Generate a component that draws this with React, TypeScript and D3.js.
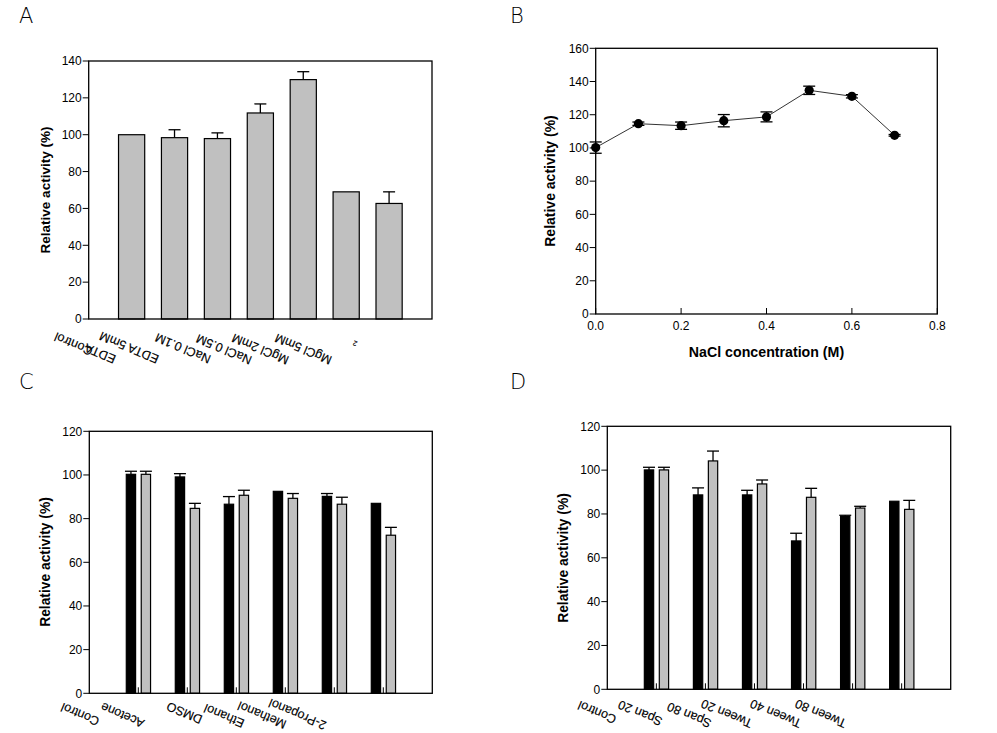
import React from "react";
import * as d3 from "d3";

// ---------- DATA ----------
// Panel A: metal ions / EDTA
const valuesA = [100, 98.4, 97.9, 111.8, 129.9, 69.0, 62.7];
const errorsA = [0, 4.3, 3.1, 4.9, 4.3, 0, 6.3];
const labelsA = ["Control", "EDTA", "EDTA 5mM", "NaCl 0.1M", "NaCl 0.5M", "MgCl 2mM", "MgCl 5mM", "2"];
const yTicksA = [0, 20, 40, 60, 80, 100, 120, 140];

// Panel B: NaCl concentration
const concB = [0, 0.1, 0.2, 0.3, 0.4, 0.5, 0.6, 0.7];
const activityB = [100.2, 114.6, 113.4, 116.4, 118.7, 134.7, 131.1, 107.6];
const errorsB = [3.4, 1.0, 2.2, 3.7, 3.0, 2.5, 1.0, 0.5];
const yTicksB = [0, 20, 40, 60, 80, 100, 120, 140, 160];
const xTicksB = [0, 0.2, 0.4, 0.6, 0.8];

// Panel C: organic solvents (two series)
const labelsC = ["Control", "Acetone", "DMSO", "Ethanol", "Methanol", "2-Propanol"];
const blackC = [100.3, 99.1, 86.6, 92.5, 90.2, 87.0];
const blackErrC = [1.4, 1.5, 3.5, 0, 1.3, 0];
const grayC = [100.3, 84.7, 90.7, 89.3, 86.6, 72.4];
const grayErrC = [1.4, 2.3, 2.3, 2.2, 3.2, 3.6];

// Panel D: detergents (two series)
const labelsD = ["Control", "Span 20", "Span 80", "Tween 20", "Tween 40", "Tween 80"];
const blackD = [100.1, 88.7, 88.7, 67.7, 78.8, 85.8];
const blackErrD = [1.2, 3.2, 2.1, 3.5, 0.6, 0];
const grayD = [100.1, 104.2, 93.7, 87.6, 82.7, 82.1];
const grayErrD = [1.2, 4.5, 1.8, 4.1, 0.8, 4.1];
const yTicksCD = [0, 20, 40, 60, 80, 100, 120];

// ---------- LAYOUT ----------
const FONT = "'Liberation Sans', Arial, sans-serif";
const W = 997, H = 733;

type Rect = { x0: number; x1: number; y0: number; y1: number };
const rectA: Rect = { x0: 88.7, x1: 432, y0: 61, y1: 319 };
const rectB: Rect = { x0: 595.7, x1: 937.3, y0: 48.3, y1: 314 };
const rectC: Rect = { x0: 89.3, x1: 432.3, y0: 431.3, y1: 693.3 };
const rectD: Rect = { x0: 607.3, x1: 950.7, y0: 426.3, y1: 689.3 };

// label anchor offsets (px) relative to plot left edge / bottom axis
const labelPosA: [number, number][] = [[5, 29], [28, 37], [71, 37], [123, 37], [164, 38], [201, 38], [244, 38], [269, 23]];
const labelPosC: [number, number][] = [[11, 25], [56, 27], [114, 23], [156, 27], [198, 28], [238, 29]];
const labelPosD: [number, number][] = [[10, 27], [56, 29], [105, 31], [146, 31], [195, 31], [240, 31]];

const LABEL_ANGLE = 203;
const LABEL_SIZE = 12.5;

function Frame({ r }: { r: Rect }) {
  return <rect x={r.x0} y={r.y0} width={r.x1 - r.x0} height={r.y1 - r.y0} fill="none" stroke="#000" strokeWidth={1.3} />;
}

function YAxis({ r, y, ticks }: { r: Rect; y: d3.ScaleLinear<number, number>; ticks: number[] }) {
  return (
    <g>
      {ticks.map((t) => (
        <g key={t}>
          <line x1={r.x0 - 6} x2={r.x0} y1={y(t)} y2={y(t)} stroke="#000" strokeWidth={1} />
          <text x={r.x0 - 7} y={y(t)} dy="0.36em" textAnchor="end" fontSize={12} fontFamily={FONT} fill="#000">
            {t}
          </text>
        </g>
      ))}
    </g>
  );
}

function YTitle({ cx, cy, size }: { cx: number; cy: number; size: number }) {
  return (
    <text
      transform={`translate(${cx},${cy}) rotate(-90)`}
      textAnchor="middle"
      dominantBaseline="central"
      fontSize={size}
      fontWeight="bold"
      fontFamily={FONT}
      fill="#000"
    >
      Relative activity (%)
    </text>
  );
}

function PanelLetter({ x, y, t }: { x: number; y: number; t: string }) {
  return (
    <text x={x} y={y} fontSize={21} fontWeight={200} fontFamily="'DejaVu Sans', sans-serif" fill="#000">
      {t}
    </text>
  );
}

function RotLabels({ r, labels, pos, sizes }: { r: Rect; labels: string[]; pos: [number, number][]; sizes?: number[] }) {
  return (
    <g>
      {labels.map((l, i) => (
        <text
          key={i}
          transform={`translate(${r.x0 + pos[i][0]},${r.y1 + pos[i][1]}) rotate(${LABEL_ANGLE})`}
          textAnchor="start"
          fontSize={sizes ? sizes[i] : LABEL_SIZE}
          fontFamily={FONT}
          fill="#000"
          stroke="#000"
          strokeWidth={0.15}
        >
          {l}
        </text>
      ))}
    </g>
  );
}

function ErrUp({ x, yTop, yErr, cap }: { x: number; yTop: number; yErr: number; cap: number }) {
  if (Math.abs(yTop - yErr) < 0.5) return null;
  return (
    <g stroke="#000" strokeWidth={1.3}>
      <line x1={x} x2={x} y1={yTop} y2={yErr} />
      <line x1={x - cap / 2} x2={x + cap / 2} y1={yErr} y2={yErr} />
    </g>
  );
}

function PanelA() {
  const r = rectA;
  const x = d3.scaleLinear().domain([0, 8]).range([r.x0, r.x1]);
  const y = d3.scaleLinear().domain([0, 140]).range([r.y1, r.y0]);
  const bw = x(0.61) - x(0);
  return (
    <g>
      {valuesA.map((v, i) => {
        const cx = x(i + 1);
        return (
          <g key={i}>
            <rect x={cx - bw / 2} y={y(v)} width={bw} height={y(0) - y(v)} fill="#c0c0c0" stroke="#000" strokeWidth={1.2} />
            <ErrUp x={cx} yTop={y(v)} yErr={y(v + errorsA[i])} cap={12} />
          </g>
        );
      })}
      <Frame r={r} />
      <YAxis r={r} y={y} ticks={yTicksA} />
      <YTitle cx={45} cy={190} size={13.5} />
      <RotLabels r={r} labels={labelsA} pos={labelPosA} sizes={[12.5, 12.5, 12.5, 12.5, 12.5, 12.5, 12.5, 7]} />
      <PanelLetter x={19} y={23} t="A" />
    </g>
  );
}

function PanelB() {
  const r = rectB;
  const x = d3.scaleLinear().domain([0, 0.8]).range([r.x0, r.x1]);
  const y = d3.scaleLinear().domain([0, 160]).range([r.y1, r.y0]);
  const line = d3
    .line<number>()
    .x((_, i) => x(concB[i]))
    .y((d) => y(d));
  return (
    <g>
      <Frame r={r} />
      <YAxis r={r} y={y} ticks={yTicksB} />
      {xTicksB.map((t) => (
        <g key={t}>
          <line x1={x(t)} x2={x(t)} y1={r.y1} y2={r.y1 - 6} stroke="#000" strokeWidth={1} />
          <text x={x(t)} y={r.y1 + 15.5} textAnchor="middle" fontSize={12} fontFamily={FONT} fill="#000">
            {t.toFixed(1)}
          </text>
        </g>
      ))}
      <path d={line(activityB) || ""} fill="none" stroke="#333" strokeWidth={1} />
      {activityB.map((v, i) => {
        const cx = x(concB[i]);
        const e = errorsB[i];
        return (
          <g key={i}>
            <g stroke="#000" strokeWidth={1.3}>
              <line x1={cx} x2={cx} y1={y(v - e)} y2={y(v + e)} />
              <line x1={cx - 6} x2={cx + 6} y1={y(v + e)} y2={y(v + e)} />
              <line x1={cx - 6} x2={cx + 6} y1={y(v - e)} y2={y(v - e)} />
            </g>
            <circle cx={cx} cy={y(v)} r={4.6} fill="#000" />
          </g>
        );
      })}
      <text x={(r.x0 + r.x1) / 2} y={357} textAnchor="middle" fontSize={14.2} fontWeight="bold" fontFamily={FONT} fill="#000">
        NaCl concentration (M)
      </text>
      <YTitle cx={550} cy={181} size={14} />
      <PanelLetter x={510} y={23} t="B" />
    </g>
  );
}

function PairPanel({
  r,
  black,
  blackErr,
  gray,
  grayErr,
  labels,
  pos,
  title,
  letter,
}: {
  r: Rect;
  black: number[];
  blackErr: number[];
  gray: number[];
  grayErr: number[];
  labels: string[];
  pos: [number, number][];
  title: [number, number];
  letter: [number, number, string];
}) {
  const x = d3.scaleLinear().domain([0, 7]).range([r.x0, r.x1]);
  const y = d3.scaleLinear().domain([0, 120]).range([r.y1, r.y0]);
  const bw = x(0.19) - x(0);
  const offB = -0.15, offG = 0.155;
  return (
    <g>
      {black.map((v, i) => {
        const c = i + 1;
        const xb = x(c + offB);
        const xg = x(c + offG);
        const g = gray[i];
        return (
          <g key={i}>
            <rect x={xb - bw / 2} y={y(v)} width={bw} height={y(0) - y(v)} fill="#000" stroke="#000" strokeWidth={1.2} />
            <rect x={xg - bw / 2} y={y(g)} width={bw} height={y(0) - y(g)} fill="#c0c0c0" stroke="#000" strokeWidth={1.2} />
            <ErrUp x={xb} yTop={y(v)} yErr={y(v + blackErr[i])} cap={12} />
            <ErrUp x={xg} yTop={y(g)} yErr={y(g + grayErr[i])} cap={12} />
            <line x1={x(c)} x2={x(c)} y1={r.y1} y2={r.y1 - 6} stroke="#000" strokeWidth={1} />
          </g>
        );
      })}
      <Frame r={r} />
      <YAxis r={r} y={y} ticks={yTicksCD} />
      <YTitle cx={title[0]} cy={title[1]} size={13.8} />
      <RotLabels r={r} labels={labels} pos={pos} />
      <PanelLetter x={letter[0]} y={letter[1]} t={letter[2]} />
    </g>
  );
}

export default function App() {
  return (
    <div style={{ position: "absolute", left: 0, top: 0, width: W, height: H, background: "#fff" }}>
      <svg width={W} height={H} viewBox={`0 0 ${W} ${H}`} style={{ display: "block" }}>
        <rect width={W} height={H} fill="#fff" />
        <PanelA />
        <PanelB />
        <PairPanel
          r={rectC}
          black={blackC}
          blackErr={blackErrC}
          gray={grayC}
          grayErr={grayErrC}
          labels={labelsC}
          pos={labelPosC}
          title={[45, 562]}
          letter={[19, 389, "C"]}
        />
        <PairPanel
          r={rectD}
          black={blackD}
          blackErr={blackErrD}
          gray={grayD}
          grayErr={grayErrD}
          labels={labelsD}
          pos={labelPosD}
          title={[563.5, 558]}
          letter={[510, 389, "D"]}
        />
      </svg>
    </div>
  );
}
